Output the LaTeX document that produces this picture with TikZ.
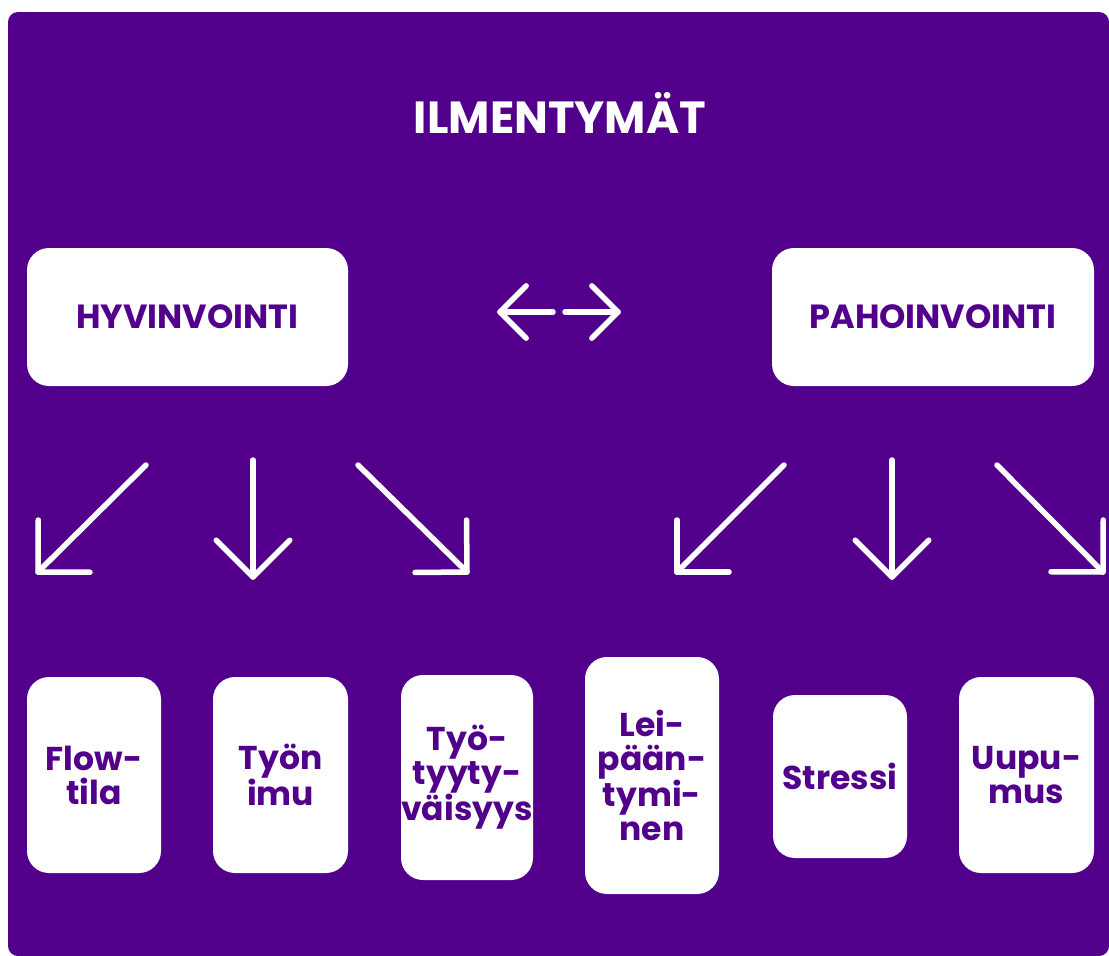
\documentclass[tikz,border=0pt]{standalone}
\usepackage{fontspec}
\setmainfont{Poppins}
\usetikzlibrary{calc}
\definecolor{bgpurple}{HTML}{52008C}
\begin{document}
\begin{tikzpicture}[x=1pt,y=-1pt,
  card/.style={fill=white, draw=none, rounded corners=22pt, inner sep=0pt,
    text=bgpurple, align=center, font=\fontsize{33}{34}\selectfont\bfseries},
  headcard/.style={card, font=\fontsize{33.5}{36}\selectfont\bfseries},
  arr/.style={draw=white, line width=5.5pt, line cap=round, line join=round}]
\useasboundingbox (0,0) rectangle (1109,956);
\fill[white] (0,0) rectangle (1109,956);
\fill[bgpurple, rounded corners=10pt] (8,12) rectangle (1109,956);

\node[text=white, font=\fontsize{45}{50}\selectfont\bfseries] (title) at (560,113) {ILMENTYMÄT};

\node[headcard, minimum width=321pt, minimum height=138pt] (hyv) at (187.5,317) {HYVINVOINTI};
\node[headcard, minimum width=322pt, minimum height=138pt] (pah) at (933,317) {PAHOINVOINTI};

\node[card, minimum width=134pt, minimum height=196pt] (flow) at (94,775) {Flow-\\tila};
\node[card, minimum width=135pt, minimum height=196pt] (imu) at (280.5,775) {Työn\\imu};
\node[card, minimum width=132pt, minimum height=205pt] (tyyt) at (467,777.5) {Työ-\\tyyty-\\väisyys};
\node[card, minimum width=134pt, minimum height=237pt] (leip) at (652,775.5) {Lei-\\pään-\\tymi-\\nen};
\node[card, minimum width=134pt, minimum height=163pt] (stress) at (840,776.5) {Stressi};
\node[card, minimum width=135pt, minimum height=196pt] (uup) at (1026.5,775) {Uupu-\\mus};

% double arrow
\coordinate (dl0) at (553,312); \coordinate (dl1) at (500,312);
\coordinate (dr0) at (565,312); \coordinate (dr1) at (618,312);
\draw[arr] (dl0) -- (dl1);
\draw[arr] ($(dl1)!37pt!45:(dl0)$) -- (dl1) -- ($(dl1)!37pt!-45:(dl0)$);
\draw[arr] (dr0) -- (dr1);
\draw[arr] ($(dr1)!37pt!45:(dr0)$) -- (dr1) -- ($(dr1)!37pt!-45:(dr0)$);

% left group arrows
\coordinate (a1t) at (146,465); \coordinate (a1h) at (38,572);
\coordinate (a2t) at (253,460); \coordinate (a2h) at (253,577);
\coordinate (a3t) at (358,465); \coordinate (a3h) at (467,572);
% right group arrows
\coordinate (a4t) at (784,465); \coordinate (a4h) at (677,572);
\coordinate (a5t) at (892,460); \coordinate (a5h) at (892,577);
\coordinate (a6t) at (997,465); \coordinate (a6h) at (1103,572);

\foreach \i in {1,...,6}{
  \draw[arr] (a\i t) -- (a\i h);
  \draw[arr] ($(a\i h)!52pt!45:(a\i t)$) -- (a\i h) -- ($(a\i h)!52pt!-45:(a\i t)$);
}
\end{tikzpicture}
\end{document}
